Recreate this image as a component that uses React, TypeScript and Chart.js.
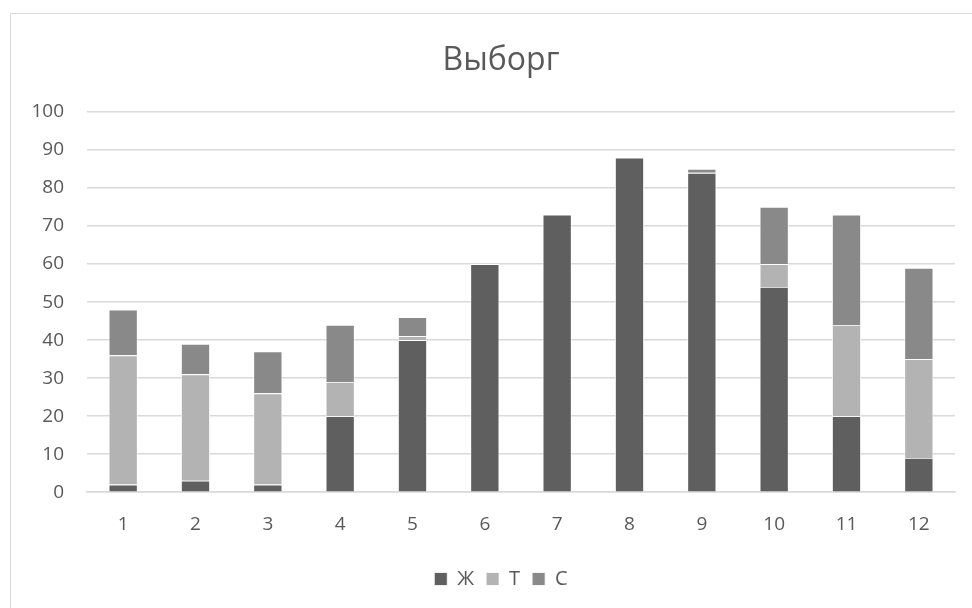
import React, { useEffect, useRef } from "react";
import { Chart, registerables } from "chart.js";

Chart.register(...registerables);

const categories = ["1", "2", "3", "4", "5", "6", "7", "8", "9", "10", "11", "12"];
const seriesZh = [2, 3, 2, 20, 40, 60, 73, 88, 84, 54, 20, 9];
const seriesT = [34, 28, 24, 9, 1, 0, 0, 0, 0, 6, 24, 26];
const seriesS = [12, 8, 11, 15, 5, 0, 0, 0, 1, 15, 29, 24];
const yTicks = [0, 10, 20, 30, 40, 50, 60, 70, 80, 90, 100];

const FONT = "'Open Sans', 'Noto Sans', sans-serif";
const TEXT = "#595959";

export default function App() {
  const ref = useRef<HTMLCanvasElement | null>(null);

  useEffect(() => {
    document.body.style.overflow = "hidden";
    const ctx = ref.current!;
    const barCommon = {
      borderColor: "#ffffff",
      borderWidth: 0.8,
      categoryPercentage: 0.8,
      barPercentage: 0.5,
    };
    const chart = new Chart(ctx, {
      type: "bar",
      data: {
        labels: categories,
        datasets: [
          { label: "Ж", data: seriesZh, backgroundColor: "#5f5f5f", ...barCommon },
          { label: "Т", data: seriesT, backgroundColor: "#b3b3b3", ...barCommon },
          { label: "С", data: seriesS, backgroundColor: "#898989", ...barCommon },
        ],
      },
      options: {
        animation: false,
        responsive: false,
        maintainAspectRatio: false,
        layout: { padding: { left: 0, right: 0, top: 0, bottom: 9 } },
        plugins: {
          title: {
            display: true,
            text: "Выборг",
            color: TEXT,
            font: { family: FONT, size: 32, weight: "normal", lineHeight: 1.2 },
            padding: { top: 28, bottom: 31.6 },
          },
          legend: {
            position: "bottom",
            labels: {
              color: TEXT,
              font: { family: FONT, size: 20 },
              boxWidth: 13,
              boxHeight: 13,
              padding: 12,
            },
          },
          tooltip: { enabled: false },
        },
        scales: {
          x: {
            stacked: true,
            grid: { display: false, drawTicks: false },
            border: { color: "#d9d9d9", width: 1.5 },
            ticks: { color: TEXT, font: { family: FONT, size: 19, lineHeight: 1.2 }, padding: 21 },
          },
          y: {
            stacked: true,
            min: 0,
            max: 100,
            afterBuildTicks: (axis: any) => {
              axis.ticks = yTicks.map((v) => ({ value: v }));
            },
            afterFit: (axis: any) => {
              axis.width = 76;
            },
            grid: { color: "#d9d9d9", lineWidth: 1.5, drawTicks: false },
            border: { display: false },
            ticks: { color: TEXT, font: { family: FONT, size: 19 }, padding: 23 },
          },
          spacer: {
            type: "linear",
            position: "right",
            display: true,
            grid: { display: false, drawTicks: false },
            border: { display: false },
            ticks: { display: false },
            afterFit: (axis: any) => {
              axis.width = 36;
            },
          },
        },
      },
    });
    return () => chart.destroy();
  }, []);

  return (
    <div
      style={{
        position: "fixed",
        left: 10,
        top: 13,
        width: 1000,
        height: 620,
        borderLeft: "1.5px solid #d9d9d9",
        borderTop: "1.5px solid #d9d9d9",
        background: "#fff",
      }}
    >
      <canvas ref={ref} width={980} height={594} style={{ display: "block", width: 980, height: 594 }} />
    </div>
  );
}
